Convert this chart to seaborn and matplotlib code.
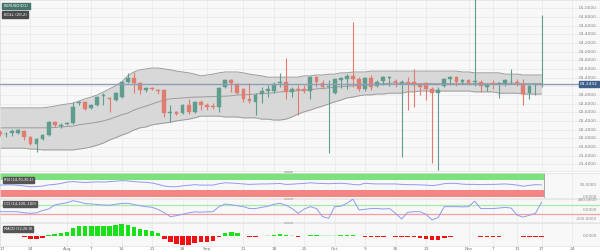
import numpy as np
import pandas as pd
import matplotlib
matplotlib.use("Agg")
import matplotlib.pyplot as plt
from matplotlib.patches import Rectangle
import seaborn as sns

# ---------------- data ----------------
start_date = "2023-07-17"
end_date = "2023-11-17"

open_ = [2.14,2.09,2.12,2.12,2.17,2.03,1.87,1.98,2.07,2.37,2.28,2.33,2.35,2.81,2.84,2.70,2.77,2.98,2.93,2.88,
         2.95,3.30,3.39,3.28,3.11,3.16,3.11,3.11,2.58,2.61,2.58,2.77,2.61,2.84,2.77,2.74,2.72,3.18,3.34,3.25,
         3.14,2.91,2.84,3.02,3.09,3.09,3.28,3.30,3.07,3.14,3.14,3.09,3.41,3.28,3.18,3.04,3.34,3.37,3.44,3.37,
         3.14,3.39,3.21,3.32,3.40,3.32,3.28,3.30,3.30,3.23,3.28,3.14,3.04,3.21,3.37,3.41,3.30,3.34,3.30,3.30,
         3.18,3.28,3.25,3.25,3.29,3.30,3.25,3.04,3.23,3.23]
high = [2.19,2.14,2.21,2.21,2.19,2.05,2.00,2.10,2.40,2.40,2.35,2.37,2.84,2.86,2.86,2.79,2.98,3.04,2.95,3.07,
        3.32,3.51,3.53,3.30,3.18,3.18,3.14,3.14,2.77,2.63,2.79,2.91,2.86,2.88,2.81,2.81,3.18,3.37,3.37,3.28,
        3.16,3.28,3.04,3.18,3.23,3.30,3.51,3.85,3.18,3.23,3.23,3.44,3.44,3.34,3.34,3.39,3.41,3.48,4.68,3.41,
        3.41,3.46,3.34,3.44,3.44,3.37,3.34,3.41,3.60,3.28,3.30,3.18,3.18,3.39,3.44,3.44,3.37,3.37,5.25,3.34,
        3.28,3.34,3.30,3.37,3.60,3.37,3.37,3.23,3.28,4.85]
low = [2.05,2.03,2.05,2.10,1.96,1.84,1.68,1.96,2.05,2.26,2.24,2.31,2.33,2.77,2.65,2.68,2.74,2.77,2.61,2.86,
       2.93,3.28,3.04,3.02,3.07,3.11,3.02,2.49,2.37,2.54,2.56,2.56,2.58,2.65,2.65,2.68,2.61,3.16,3.07,3.02,
       2.84,2.81,2.54,2.81,2.95,3.04,3.18,2.91,2.95,2.54,3.04,2.91,3.18,3.14,1.66,3.03,3.16,3.14,3.18,3.09,
       3.09,3.11,3.18,3.23,3.21,3.18,1.57,2.65,2.72,3.00,2.88,1.43,1.27,3.18,3.23,3.21,3.25,3.23,3.21,3.07,
       3.09,3.14,2.93,3.21,3.28,3.21,2.77,2.91,3.00,3.18]
close = [2.10,2.10,2.17,2.19,2.03,1.87,1.98,2.07,2.37,2.31,2.31,2.35,2.72,2.84,2.68,2.77,2.95,3.00,2.91,3.04,
         3.30,3.39,3.28,3.11,3.16,3.14,3.09,2.58,2.61,2.56,2.77,2.61,2.84,2.77,2.72,2.72,3.16,3.34,3.28,3.04,
         2.91,2.86,3.00,3.09,3.14,3.25,3.30,3.07,3.14,3.11,3.09,3.41,3.30,3.18,3.21,3.37,3.39,3.44,3.37,3.14,
         3.39,3.18,3.30,3.41,3.41,3.28,3.30,3.28,3.23,3.18,3.14,3.04,3.11,3.37,3.41,3.30,3.34,3.28,3.32,3.21,
         3.23,3.25,3.28,3.34,3.30,3.28,3.02,3.21,3.25,3.25]

bb_upper = [2.70,2.70,2.70,2.70,2.70,2.70,2.70,2.70,2.72,2.74,2.77,2.79,2.81,2.86,2.91,2.95,3.00,3.07,3.14,3.21,
            3.30,3.44,3.53,3.58,3.60,3.62,3.62,3.60,3.58,3.55,3.53,3.51,3.48,3.44,3.46,3.48,3.51,3.53,3.53,3.53,
            3.51,3.48,3.46,3.44,3.41,3.41,3.41,3.41,3.41,3.41,3.44,3.44,3.46,3.46,3.48,3.48,3.51,3.51,3.53,3.53,
            3.53,3.55,3.55,3.55,3.55,3.55,3.55,3.55,3.55,3.55,3.55,3.55,3.55,3.55,3.55,3.55,3.53,3.53,3.51,3.51,
            3.51,3.51,3.51,3.48,3.48,3.48,3.46,3.46,3.46,3.46]
bb_middle = [2.24,2.24,2.24,2.24,2.24,2.24,2.24,2.24,2.24,2.25,2.26,2.27,2.28,2.31,2.33,2.35,2.37,2.40,2.44,2.49,
             2.54,2.58,2.65,2.70,2.74,2.79,2.84,2.88,2.91,2.92,2.93,2.94,2.95,2.95,2.96,2.96,2.97,2.97,2.98,3.00,
             3.00,3.01,3.02,3.03,3.04,3.05,3.07,3.08,3.09,3.10,3.11,3.12,3.14,3.15,3.16,3.18,3.19,3.20,3.21,3.22,
             3.23,3.24,3.25,3.26,3.27,3.28,3.26,3.26,3.26,3.26,3.26,3.26,3.26,3.26,3.26,3.26,3.26,3.26,3.26,3.26,
             3.26,3.26,3.26,3.26,3.26,3.26,3.26,3.26,3.26,3.26]
bb_lower = [1.77,1.77,1.77,1.77,1.77,1.75,1.75,1.73,1.73,1.73,1.73,1.73,1.73,1.75,1.77,1.80,1.84,1.89,1.96,2.01,
            2.07,2.12,2.19,2.24,2.26,2.31,2.33,2.35,2.37,2.40,2.42,2.44,2.47,2.51,2.51,2.51,2.51,2.49,2.49,2.49,
            2.47,2.47,2.47,2.44,2.44,2.42,2.42,2.44,2.49,2.56,2.61,2.65,2.70,2.74,2.79,2.84,2.88,2.93,2.95,2.98,
            3.00,3.00,3.02,3.02,3.04,3.04,3.04,3.07,3.07,3.09,3.09,3.09,3.09,3.09,3.09,3.09,3.09,3.09,3.07,3.07,
            3.07,3.07,3.04,3.04,3.04,3.04,3.02,3.02,3.02,3.02]

rsi = [49,50,50,48,45,42,43,45,50,52,56,62,64,62,60,62,63,62,64,66,
       68,67,64,62,61,58,52,45,42,42,46,48,51,49,49,49,55,59,58,56,
       54,52,53,54,54,55,56,52,53,55,56,59,57,56,55,56,57,55,52,50,
       57,55,54,54,54,54,52,51,51,50,49,47,50,55,57,56,53,52,52,51,
       52,52,53,54,52,49,44,48,51,50]
cci = [-46,-46,-46,-50,-70,-80,-70,-20,10,95,120,143,185,160,125,116,105,95,90,110,
       128,130,105,80,60,45,0,-67,-151,-130,-100,-70,-50,-55,-50,-46,60,116,100,80,
       60,20,20,45,70,110,130,90,20,-80,10,60,20,-150,-185,60,70,130,220,-10,
       5,20,20,10,20,-80,-200,-60,-46,-46,-100,-220,-170,60,60,60,55,60,175,20,
       20,20,30,45,30,-120,-160,-120,-80,154]
macd_hist = [-0.5,-0.5,-0.5,-0.5,-1,-3,-3.3,-2,1,2,3,4,7.7,10,10,10,10,10,10,10.5,
             11.7,11,9,7,6,5,2.7,-3.3,-5.7,-8,-9,-9,-7.5,-6,-6,-5.5,-1.3,2.7,4,2.5,
             -0.5,-1,-1,-0.5,0.5,1,2,1,0.5,-0.7,-0.3,1,1.3,0.5,0.5,0.5,1,1.3,1.3,-0.3,
             -0.7,-1.3,-1.3,-1,-0.5,-1,-1.3,-1.3,-1.5,-2,-3,-4,-4,-2,-1,-0.5,-0.3,-0.5,-0.3,-0.7,
             -1,-1,-0.7,-0.3,0.3,-0.3,-1.3,-1.3,-1,-0.7]

tick_dates = ["2023-07-17","2023-07-24","2023-08-01","2023-08-07","2023-08-14","2023-08-21","2023-08-28",
              "2023-09-01","2023-09-11","2023-09-18","2023-09-25","2023-10-02","2023-10-09","2023-10-16",
              "2023-10-23","2023-11-01","2023-11-07","2023-11-13","2023-11-17","2023-11-24"]
tick_labels = ["17","24","Aug","7","14","21","28","Sep","11","18","25","Oct","9","16","23","Nov","7","13","17","24"]
price_ticks = [1.4,1.6,1.8,2.0,2.2,2.4,2.6,2.8,3.0,3.2,3.4,3.6,3.8,4.0,4.2,4.4,4.6,4.8,5.0]
last_price = 3.2432
rsi_ticks = [50, 0]
cci_ticks = [200, 0, -200]
macd_ticks = [0]
main_labels = ["EURUSD(D1)", "BOLL (20,2)"]

# ---------------- style ----------------
sns.set_theme(style="white")
plt.rcParams['font.family'] = ['DejaVu Sans']

BG = "#f8f8f8"
GRID = "#ececec"
UP = "#5f9e8e"
DOWN = "#de7d70"
TXT = "#8a8a8a"

dates = pd.bdate_range(start_date, end_date)
ext = pd.bdate_range(start_date, "2023-12-15")
x = np.arange(len(dates))
tick_pos = ext.get_indexer(pd.to_datetime(tick_dates))
XL = (0.05, 98.6)

W, H = 600, 252
fig = plt.figure(figsize=(6.0, 2.52), dpi=100)
fig.patch.set_facecolor("white")


def ax_px(top, bottom):
    a = fig.add_axes([0, 1 - bottom / H, 1, (bottom - top) / H])
    a.set_facecolor(BG)
    a.set_xlim(*XL)
    a.set_xticks(tick_pos)
    a.grid(True, axis="x", color=GRID, lw=0.6)
    a.tick_params(length=0, labelsize=3.2, labelcolor="#777777", pad=0.5)
    a.set_yticks([])
    for s in a.spines.values():
        s.set_color("#e0e0e0")
        s.set_linewidth(0.5)
    return a


ax = ax_px(0, 171)
ax_rsi = ax_px(173, 198)
ax_cci = ax_px(199, 222)
ax_macd = ax_px(223, 246)
for a in (ax, ax_rsi, ax_cci):
    a.set_xticklabels([])
ax_macd.set_xticklabels(tick_labels)
ax_macd.get_xticklabels()[0].set_horizontalalignment("left")

# ---------------- main panel ----------------
ax.set_ylim(1.243, 5.192)
for p in price_ticks:
    ax.axhline(p, color=GRID, lw=0.6, zorder=0)
    if abs(p - last_price) > 0.09:
        ax.text(0.995, p, f"{p:07.4f}", transform=ax.get_yaxis_transform(), ha="right", va="center",
                fontsize=3.2, color=TXT)

ax.fill_between(x, bb_lower, bb_upper, color="#d8d8d8", zorder=1, lw=0)
df_bb = pd.DataFrame({"x": x, "up": bb_upper, "mid": bb_middle, "lo": bb_lower})
for col in ("up", "mid", "lo"):
    sns.lineplot(data=df_bb, x="x", y=col, ax=ax, color="#9c9c9c", lw=0.7, zorder=2)

o = np.array(open_); c = np.array(close); h = np.array(high); l = np.array(low)
cols = np.where(c >= o, UP, DOWN)
ax.vlines(x, l, h, colors=cols, lw=0.8, zorder=3)
body_lo = np.minimum(o, c)
body_h = np.maximum(np.abs(c - o), 0.012)
ax.bar(x, body_h, bottom=body_lo, width=0.62, color=cols, edgecolor=cols, lw=0.3, zorder=4)

ax.axhline(last_price, color="#8d9db5", lw=1.0, zorder=5)
ax.text(0.996, last_price, f"{last_price:07.4f}", transform=ax.get_yaxis_transform(), ha="right",
        va="center", fontsize=3.2, color="white", zorder=6,
        bbox=dict(boxstyle="square,pad=0.25", fc="#3e5f8a", ec="#3e5f8a"))
ax.set_ylabel(""); ax.set_xlabel("")

# legend boxes top-left
ax.text(0.006, 0.965, main_labels[0], transform=ax.transAxes, fontsize=2.8, color="white",
        va="center", ha="left", bbox=dict(boxstyle="square,pad=0.3", fc="#43756a", ec="#43756a"))
ax.text(0.006, 0.915, main_labels[1], transform=ax.transAxes, fontsize=2.8, color="white",
        va="center", ha="left", bbox=dict(boxstyle="square,pad=0.3", fc="#4a4a4a", ec="#4a4a4a"))

# ---------------- RSI ----------------
ax_rsi.set_ylim(-6.4, 101)
xe = [XL[0], x[-1] + 0.4]
ax_rsi.fill_between(xe, 70, 100, color="#7de27d", lw=0, zorder=1)
ax_rsi.fill_between(xe, 0, 30, color="#f38585", lw=0, zorder=1)
ax_rsi.axvline(x[-1] + 0.4, ymin=0.06, ymax=0.99, color="#9a9a9a", lw=0.6, zorder=2)
sns.lineplot(x=x, y=rsi, ax=ax_rsi, color="#8c9cf2", lw=0.7, zorder=3)
for v in rsi_ticks:
    ax_rsi.text(0.995, v, f"{v:.4f}", transform=ax_rsi.get_yaxis_transform(), ha="right",
                va="center", fontsize=3.0, color=TXT)
ax_rsi.text(0.006, 0.72, "RSI (14,70,30,1)", transform=ax_rsi.transAxes, fontsize=2.6, color="white",
            va="center", ha="left", bbox=dict(boxstyle="square,pad=0.3", fc="#555555", ec="#555555"))

# ---------------- CCI ----------------
ax_cci.set_ylim(-263, 221)
ax_cci.axhline(100, color="#a8eaa8", lw=0.9, zorder=1)
ax_cci.axhline(-100, color="#f2a0a0", lw=0.9, zorder=1)
sns.lineplot(x=x, y=cci, ax=ax_cci, color="#8c9cf2", lw=0.7, zorder=3)
for v in cci_ticks:
    ax_cci.text(0.995, v, f"{v:.4f}", transform=ax_cci.get_yaxis_transform(), ha="right",
                va="center", fontsize=3.0, color=TXT)
ax_cci.text(0.006, 0.8, "CCI (14,100,-100)", transform=ax_cci.transAxes, fontsize=2.6, color="white",
            va="center", ha="left", bbox=dict(boxstyle="square,pad=0.3", fc="#555555", ec="#555555"))

# ---------------- MACD ----------------
ax_macd.set_ylim(-10.2, 13)
mh = np.array(macd_hist)
mcol = np.where(mh >= 0, np.where(np.abs(mh) >= 0.8, "#19e019", "#c4f2c4"),
                np.where(np.abs(mh) >= 0.6, "#f01010", "#f6c4c4"))
ax_macd.bar(x, mh, width=0.75, color=mcol, lw=0, zorder=3)
for v in macd_ticks:
    ax_macd.text(0.995, v, f"{v:.4f}", transform=ax_macd.get_yaxis_transform(), ha="right",
                 va="center", fontsize=3.0, color=TXT)
ax_macd.text(0.006, 0.75, "MACD (12,26,9)", transform=ax_macd.transAxes, fontsize=2.6, color="white",
             va="center", ha="left", bbox=dict(boxstyle="square,pad=0.3", fc="#555555", ec="#555555"))

for a in (ax_rsi, ax_cci, ax_macd):
    a.set_ylabel(""); a.set_xlabel("")

# separator handles
for yy in (172, 198.5, 222.5):
    fig.patches.append(Rectangle((284 / W, 1 - (yy + 1) / H), 9 / W, 2 / H, transform=fig.transFigure,
                                 fc="#c8c8c8", ec="none"))

fig.savefig("out.png", dpi=100)
